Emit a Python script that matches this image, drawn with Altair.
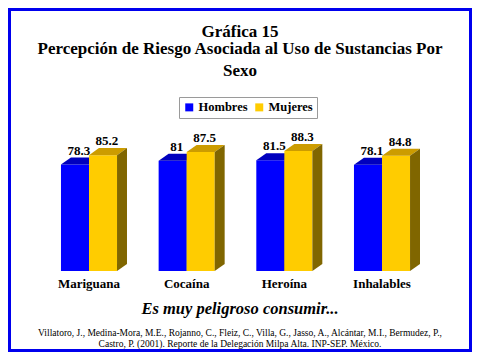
import altair as alt
import pandas as pd

# ---- data ----
categories = ["Mariguana", "Cocaína", "Heroína", "Inhalables"]
series = ["Hombres", "Mujeres"]
hombres = [78.3, 81.0, 81.5, 78.1]
mujeres = [85.2, 87.5, 88.3, 84.8]
title_lines = ["Gráfica 15",
               "Percepción de Riesgo Asociada al Uso de Sustancias Por",
               "Sexo"]
subtitle = ["Es muy peligroso consumir..."]
footer = ["Villatoro, J., Medina-Mora, M.E., Rojanno, C., Fleiz, C., Villa, G., Jasso, A., Alcántar, M.I., Bermudez, P.,",
          "Castro, P. (2001). Reporte de la Delegación Milpa Alta. INP-SEP. México."]

# ---- styles ----
front_colors = ["#0000FF", "#FFCC00"]
top_colors = ["#0000BE", "#CC9C00"]
side_colors = ["#000080", "#806600"]
SERIF = "Liberation Serif"

W, H = 464, 344
BAR_W = 0.287      # bar width in group units
DEPTH_X = 0.102    # 3D depth (x, group units)
DEPTH_Y = 5.15     # 3D depth (y, percent units)
X_DOM = [-0.8293, 3.9214]
Y_DOM = [-59.56, 193.38]

xs = alt.Scale(domain=X_DOM, nice=False, zero=False)
ys = alt.Scale(domain=Y_DOM, nice=False, zero=False)

values = [hombres, mujeres]
layers = []
for j, (s, vals) in enumerate(zip(series, values)):
    front_rows, top_rows, side_rows, lab_rows = [], [], [], []
    for i, (c, v) in enumerate(zip(categories, vals)):
        xl = i + (j - 1) * BAR_W
        xr = xl + BAR_W
        key = f"{s}-{c}"
        front_rows.append({"serie": s, "cat": c, "xl": xl, "xr": xr, "v": v})
        top_rows += [
            {"bar": key, "x": xl, "y": v, "y2": v},
            {"bar": key, "x": xl + DEPTH_X, "y": v + DEPTH_Y, "y2": v},
            {"bar": key, "x": xr, "y": v + DEPTH_Y, "y2": v},
            {"bar": key, "x": xr + DEPTH_X, "y": v + DEPTH_Y, "y2": v + DEPTH_Y},
        ]
        side_rows += [
            {"bar": key, "x": xr, "y": v, "y2": 0},
            {"bar": key, "x": xr + DEPTH_X, "y": v + DEPTH_Y, "y2": DEPTH_Y},
        ]
        lab_rows.append({"x": xl + BAR_W / 2 + DEPTH_X / 2, "y": v + DEPTH_Y,
                         "t": f"{v:g}"})

    front = alt.Chart(pd.DataFrame(front_rows)).mark_bar().encode(
        x=alt.X("xl:Q", scale=xs, axis=None),
        x2="xr:Q",
        y=alt.Y("v:Q", scale=ys, axis=None, stack=None),
        y2=alt.datum(0),
        color=alt.Color("serie:N",
                        scale=alt.Scale(domain=series, range=front_colors),
                        legend=alt.Legend(
                            orient="none", legendX=171, legendY=89,
                            direction="horizontal", title=None,
                            symbolType="square", symbolSize=64,
                            symbolStrokeWidth=0, symbolOpacity=1,
                            labelFont=SERIF, labelFontSize=12.5,
                            labelFontWeight="bold", labelColor="black",
                            strokeColor="#9a9a9a", fillColor="white",
                            padding=4, columnPadding=5, labelOffset=3)),
    )
    top = alt.Chart(pd.DataFrame(top_rows)).mark_area(
        color=top_colors[j], opacity=1).encode(
        x=alt.X("x:Q", scale=xs, axis=None),
        y=alt.Y("y:Q", scale=ys, axis=None, stack=None),
        y2="y2:Q",
        detail="bar:N",
    )
    side = alt.Chart(pd.DataFrame(side_rows)).mark_area(
        color=side_colors[j], opacity=1).encode(
        x=alt.X("x:Q", scale=xs, axis=None),
        y=alt.Y("y:Q", scale=ys, axis=None, stack=None),
        y2="y2:Q",
        detail="bar:N",
    )
    labels = alt.Chart(pd.DataFrame(lab_rows)).mark_text(
        font=SERIF, fontSize=13, fontWeight="bold", color="black",
        baseline="alphabetic", dy=-3, dx=-1).encode(
        x=alt.X("x:Q", scale=xs, axis=None),
        y=alt.Y("y:Q", scale=ys, axis=None),
        text="t:N",
    )
    layers += [front, top, side]
    layers.append(labels)

cat_df = pd.DataFrame({"x": list(range(len(categories))), "cat": categories})
cat_labels = alt.Chart(cat_df).mark_text(
    font=SERIF, fontSize=13, fontWeight="bold", color="black",
    baseline="alphabetic").encode(
    x=alt.X("x:Q", scale=xs, axis=None),
    y=alt.value(280),
    text="cat:N",
)
layers.append(cat_labels)


def text_line(t, y, size, weight="bold", style="normal"):
    return alt.Chart(pd.DataFrame({"t": [t]})).mark_text(
        font=SERIF, fontSize=size, fontWeight=weight, fontStyle=style,
        color="black", baseline="alphabetic", align="center").encode(
        x=alt.value(W / 2), y=alt.value(y), text="t:N")


layers.append(text_line(title_lines[0], 28.5, 17))
layers.append(text_line(title_lines[1], 46, 17))
layers.append(text_line(title_lines[2], 68, 17))
layers.append(text_line(subtitle[0], 306, 16.5, style="italic"))
layers.append(text_line(footer[0], 328, 9.5, weight="normal"))
layers.append(text_line(footer[1], 338.5, 9.5, weight="normal"))

chart = alt.layer(*layers).properties(
    width=W, height=H,
    autosize=alt.AutoSizeParams(type="none"),
    padding=0,
    background="white",
).configure_view(stroke="#0000EE", strokeWidth=6)

chart.save("out.html", embed_options={"renderer": "svg", "actions": False})
